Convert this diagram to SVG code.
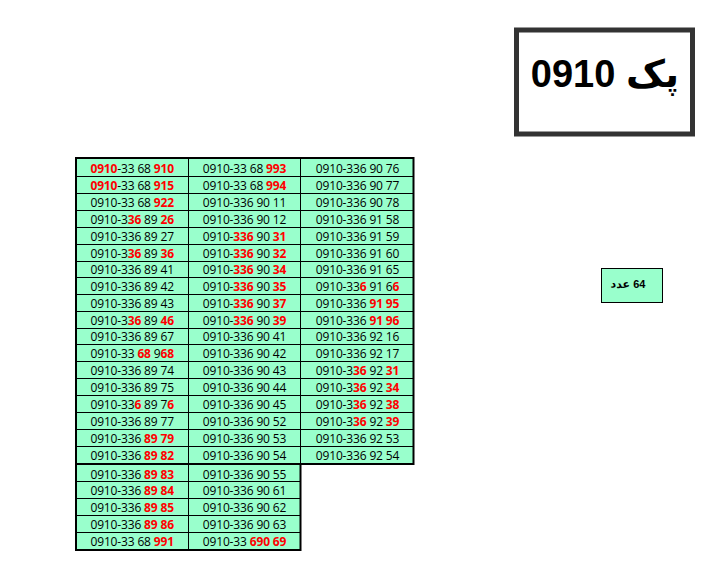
<svg xmlns="http://www.w3.org/2000/svg" width="706" height="584" viewBox="0 0 706 584">
<style>
.bg{fill:#ffffff}
.cellfill{fill:#99FFCC}
.thin{stroke:#000;stroke-width:1;fill:none}
.thick{stroke:#000;stroke-width:2;fill:none}
.c{font-family:"Open Sans","Noto Sans",sans-serif;font-size:12px;letter-spacing:-0.15px;fill:#000;text-anchor:middle}
.r{fill:#FF0000;font-weight:bold}
.title{font-family:"Liberation Sans","DejaVu Sans",sans-serif;font-size:38px;font-weight:bold;fill:#000;text-anchor:middle}
.cnt{font-family:"Liberation Sans","DejaVu Sans",sans-serif;font-size:11px;font-weight:bold;fill:#000;text-anchor:middle}
</style>
<rect class="bg" x="0" y="0" width="706" height="584"/>

<g id="title-box">
<rect x="516.5" y="30" width="176" height="104" fill="#fff" stroke="#333333" stroke-width="5"/>
<text class="title" x="605" y="87" direction="rtl" unicode-bidi="embed">پک 0910</text>
</g>

<g id="count-box">
<rect x="601.5" y="268.5" width="61" height="34" fill="#99FFCC" stroke="#000" stroke-width="1"/>
<text class="cnt" x="628" y="288" direction="rtl" unicode-bidi="embed">64 عدد</text>
</g>

<g id="table">
<rect class="cellfill" x="76" y="158" width="337.5" height="306"/>
<rect class="cellfill" x="76" y="464" width="224.5" height="86"/>
<g id="grid">
<path class="thin" d="M76 176.5H413.5M76 193.5H413.5M76 210.5H413.5M76 227.5H413.5M76 244.5H413.5M76 261.5H413.5M76 277.5H413.5M76 294.5H413.5M76 311.5H413.5M76 328.5H413.5M76 344.5H413.5M76 361.5H413.5M76 378.5H413.5M76 395.5H413.5M76 412.5H413.5M76 429.5H413.5M76 446.5H413.5M76 481.5H300.5M76 498.5H300.5M76 515.5H300.5M76 532.5H300.5M188.5 158V550M300.5 158V464"/>
<path class="thick" d="M76 158H413.5V464H300.5V550H76ZM76 464H300.5"/>
</g>
<g id="col1">
<text class="c" x="132.2" y="172.5"><tspan class="r">0910</tspan>-33 68 <tspan class="r">910</tspan></text>
<text class="c" x="132.2" y="189.5"><tspan class="r">0910</tspan>-33 68 <tspan class="r">915</tspan></text>
<text class="c" x="132.2" y="206.5">0910-33 68 <tspan class="r">922</tspan></text>
<text class="c" x="132.2" y="223.5">0910-3<tspan class="r">36</tspan> 89 <tspan class="r">26</tspan></text>
<text class="c" x="132.2" y="240.5">0910-336 89 27</text>
<text class="c" x="132.2" y="257.5">0910-3<tspan class="r">36</tspan> 89 <tspan class="r">36</tspan></text>
<text class="c" x="132.2" y="273.5">0910-336 89 41</text>
<text class="c" x="132.2" y="290.5">0910-336 89 42</text>
<text class="c" x="132.2" y="307.5">0910-336 89 43</text>
<text class="c" x="132.2" y="324.5">0910-3<tspan class="r">36</tspan> 89 <tspan class="r">46</tspan></text>
<text class="c" x="132.2" y="340.5">0910-336 89 67</text>
<text class="c" x="132.2" y="357.5">0910-33 <tspan class="r">68</tspan> 9<tspan class="r">68</tspan></text>
<text class="c" x="132.2" y="374.5">0910-336 89 74</text>
<text class="c" x="132.2" y="391.5">0910-336 89 75</text>
<text class="c" x="132.2" y="408.5">0910-33<tspan class="r">6</tspan> 89 7<tspan class="r">6</tspan></text>
<text class="c" x="132.2" y="425.5">0910-336 89 77</text>
<text class="c" x="132.2" y="442.5">0910-336 <tspan class="r">89 79</tspan></text>
<text class="c" x="132.2" y="459.5">0910-336 <tspan class="r">89 82</tspan></text>
<text class="c" x="132.2" y="478.5">0910-336 <tspan class="r">89 83</tspan></text>
<text class="c" x="132.2" y="495">0910-336 <tspan class="r">89 84</tspan></text>
<text class="c" x="132.2" y="512">0910-336 <tspan class="r">89 85</tspan></text>
<text class="c" x="132.2" y="529">0910-336 <tspan class="r">89 86</tspan></text>
<text class="c" x="132.2" y="545.5">0910-33 68 <tspan class="r">991</tspan></text>
</g>
<g id="col2">
<text class="c" x="244.5" y="172.5">0910-33 68 <tspan class="r">993</tspan></text>
<text class="c" x="244.5" y="189.5">0910-33 68 <tspan class="r">994</tspan></text>
<text class="c" x="244.5" y="206.5">0910-336 90 11</text>
<text class="c" x="244.5" y="223.5">0910-336 90 12</text>
<text class="c" x="244.5" y="240.5">0910-<tspan class="r">336</tspan> 90 <tspan class="r">31</tspan></text>
<text class="c" x="244.5" y="257.5">0910-<tspan class="r">336</tspan> 90 <tspan class="r">32</tspan></text>
<text class="c" x="244.5" y="273.5">0910-<tspan class="r">336</tspan> 90 <tspan class="r">34</tspan></text>
<text class="c" x="244.5" y="290.5">0910-<tspan class="r">336</tspan> 90 <tspan class="r">35</tspan></text>
<text class="c" x="244.5" y="307.5">0910-<tspan class="r">336</tspan> 90 <tspan class="r">37</tspan></text>
<text class="c" x="244.5" y="324.5">0910-<tspan class="r">336</tspan> 90 <tspan class="r">39</tspan></text>
<text class="c" x="244.5" y="340.5">0910-336 90 41</text>
<text class="c" x="244.5" y="357.5">0910-336 90 42</text>
<text class="c" x="244.5" y="374.5">0910-336 90 43</text>
<text class="c" x="244.5" y="391.5">0910-336 90 44</text>
<text class="c" x="244.5" y="408.5">0910-336 90 45</text>
<text class="c" x="244.5" y="425.5">0910-336 90 52</text>
<text class="c" x="244.5" y="442.5">0910-336 90 53</text>
<text class="c" x="244.5" y="459.5">0910-336 90 54</text>
<text class="c" x="244.5" y="478.5">0910-336 90 55</text>
<text class="c" x="244.5" y="495">0910-336 90 61</text>
<text class="c" x="244.5" y="512">0910-336 90 62</text>
<text class="c" x="244.5" y="529">0910-336 90 63</text>
<text class="c" x="244.5" y="545.5">0910-33 <tspan class="r">690 69</tspan></text>
</g>
<g id="col3">
<text class="c" x="357.5" y="172.5">0910-336 90 76</text>
<text class="c" x="357.5" y="189.5">0910-336 90 77</text>
<text class="c" x="357.5" y="206.5">0910-336 90 78</text>
<text class="c" x="357.5" y="223.5">0910-336 91 58</text>
<text class="c" x="357.5" y="240.5">0910-336 91 59</text>
<text class="c" x="357.5" y="257.5">0910-336 91 60</text>
<text class="c" x="357.5" y="273.5">0910-336 91 65</text>
<text class="c" x="357.5" y="290.5">0910-33<tspan class="r">6</tspan> 91 6<tspan class="r">6</tspan></text>
<text class="c" x="357.5" y="307.5">0910-336 <tspan class="r">91 95</tspan></text>
<text class="c" x="357.5" y="324.5">0910-336 <tspan class="r">91 96</tspan></text>
<text class="c" x="357.5" y="340.5">0910-336 92 16</text>
<text class="c" x="357.5" y="357.5">0910-336 92 17</text>
<text class="c" x="357.5" y="374.5">0910-3<tspan class="r">36</tspan> 92 <tspan class="r">31</tspan></text>
<text class="c" x="357.5" y="391.5">0910-3<tspan class="r">36</tspan> 92 <tspan class="r">34</tspan></text>
<text class="c" x="357.5" y="408.5">0910-3<tspan class="r">36</tspan> 92 <tspan class="r">38</tspan></text>
<text class="c" x="357.5" y="425.5">0910-3<tspan class="r">36</tspan> 92 <tspan class="r">39</tspan></text>
<text class="c" x="357.5" y="442.5">0910-336 92 53</text>
<text class="c" x="357.5" y="459.5">0910-336 92 54</text>
</g>
</g>
</svg>
